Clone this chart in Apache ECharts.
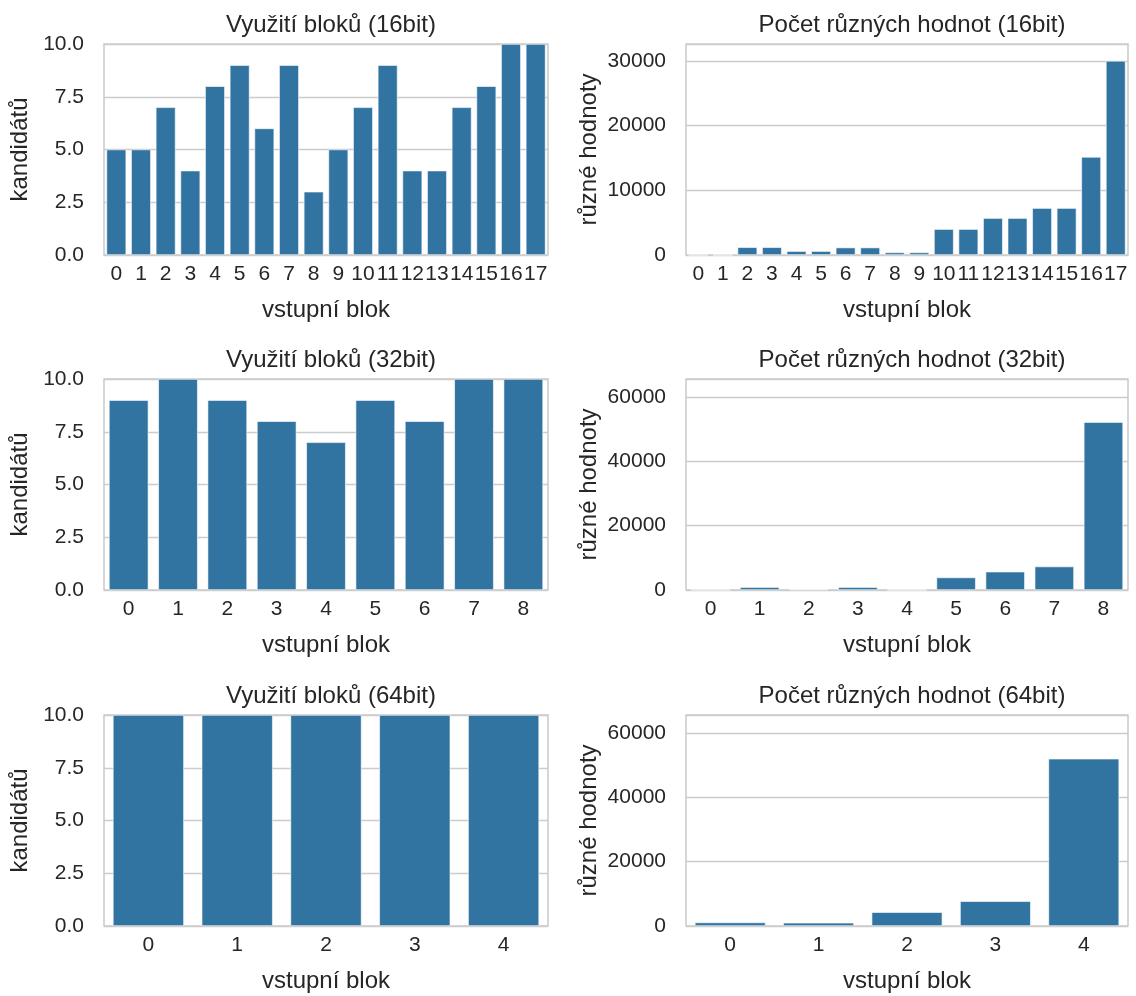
<!DOCTYPE html>
<html><head><meta charset="utf-8">
<script src="https://cdn.jsdelivr.net/npm/echarts@6/dist/echarts.min.js"></script>
<style>html,body{margin:0;padding:0;background:#fff}#c{width:1136px;height:996px}</style>
</head><body><div id="c"></div>
<script>
const cats16 = ['0','1','2','3','4','5','6','7','8','9','10','11','12','13','14','15','16','17'];
const cats32 = ['0','1','2','3','4','5','6','7','8'];
const cats64 = ['0','1','2','3','4'];
const usage16 = [5,5,7,4,8,9,6,9,3,5,7,9,4,4,7,8,10,10];
const usage32 = [9,10,9,8,7,9,8,10,10];
const usage64 = [10,10,10,10,10];
const distinct16 = [0,0,1200,1200,600,600,1150,1150,400,400,4000,4000,5700,5700,7250,7250,15150,30000];
const distinct32 = [0,900,200,900,0,3900,5700,7300,52200];
const distinct64 = [1100,1000,4300,7700,52000];
const titlesLeft = ['Využití bloků (16bit)','Využití bloků (32bit)','Využití bloků (64bit)'];
const titlesRight = ['Počet různých hodnot (16bit)','Počet různých hodnot (32bit)','Počet různých hodnot (64bit)'];

const FONT = 'Liberation Sans, Arial, sans-serif';
const TXT = '#262626';
const BAR = '#3274a1';
const GRIDC = '#cccccc';
const tops = [44, 379, 715];
const H = 211;
const leftX = 104, leftW = 444, rightX = 686, rightW = 442;

const grids = [], xAxes = [], yAxes = [], series = [], titles = [];
const rows = [
  {cats: cats16, l: usage16, r: distinct16, rmax: 32600, rint: 10000},
  {cats: cats32, l: usage32, r: distinct32, rmax: 65600, rint: 20000},
  {cats: cats64, l: usage64, r: distinct64, rmax: 65600, rint: 20000}
];
rows.forEach((row, i) => {
  [[leftX, leftW, row.l, 10, 2.5, 'kandidátů', 72, titlesLeft[i], true],
   [rightX, rightW, row.r, row.rmax, row.rint, 'různé hodnoty', 85, titlesRight[i], false]].forEach((p) => {
    const gi = grids.length;
    grids.push({left: p[0], top: tops[i], width: p[1], height: H, show: true, borderColor: GRIDC, borderWidth: 1.6, backgroundColor: 'transparent'});
    titles.push({text: p[7], left: p[0] + p[1] / 2, top: tops[i] - 36, textAlign: 'center',
      textStyle: {fontFamily: FONT, fontSize: 24, fontWeight: 'normal', color: TXT}});
    xAxes.push({type: 'category', gridIndex: gi, data: row.cats, name: 'vstupní blok', nameLocation: 'middle', nameGap: 43,
      nameTextStyle: {fontFamily: FONT, fontSize: 24, color: TXT},
      axisLine: {show: false}, axisTick: {show: false},
      axisLabel: {interval: 0, fontFamily: FONT, fontSize: 21, color: TXT, margin: 9},
      splitLine: {show: false}});
    yAxes.push({type: 'value', gridIndex: gi, min: 0, max: p[3], interval: p[4],
      name: p[5], nameLocation: 'middle', nameGap: p[6],
      nameTextStyle: {fontFamily: FONT, fontSize: 24, color: TXT},
      axisLine: {show: false}, axisTick: {show: false},
      axisLabel: {fontFamily: FONT, fontSize: 21, color: TXT, margin: 20, showMaxLabel: p[8] ? true : false,
        formatter: p[8] ? (v => v.toFixed(1)) : (v => String(v))},
      splitLine: {show: true, lineStyle: {color: GRIDC, width: 1.3}}});
    series.push({type: 'bar', xAxisIndex: gi, yAxisIndex: gi, data: p[2], barCategoryGap: '20%',
      itemStyle: {color: BAR, borderColor: '#ffffff', borderWidth: 0.6}, animation: false, silent: true});
  });
});

const chart = echarts.init(document.getElementById('c'), null, {renderer: 'canvas'});
chart.setOption({backgroundColor: '#ffffff', animation: false, title: titles, grid: grids, xAxis: xAxes, yAxis: yAxes, series: series});
</script></body></html>
